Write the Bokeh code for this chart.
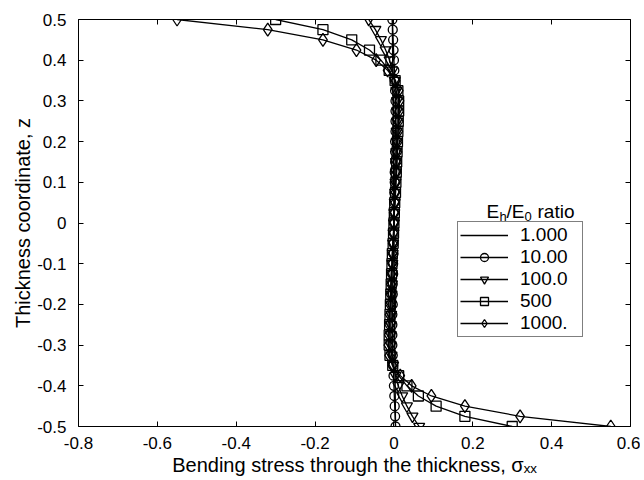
from bokeh.plotting import figure
from bokeh.models import Range1d, LinearAxis, FixedTicker, Label, Legend, LegendItem
from bokeh.embed import file_html
from bokeh.resources import INLINE

FONT = "Liberation Sans"

# ---- data -------------------------------------------------------------
z = [0.5, 0.475, 0.45, 0.425, 0.4, 0.375, 0.35, 0.325, 0.3, 0.275, 0.25,
     0.225, 0.2, 0.175, 0.15, 0.125, 0.1, 0.075, 0.05, 0.025, 0.0,
     -0.025, -0.05, -0.075, -0.1, -0.125, -0.15, -0.175, -0.2, -0.225, -0.25,
     -0.275, -0.3, -0.325, -0.35, -0.375, -0.4, -0.425, -0.45, -0.475, -0.5]

sig_1 = [-0.004, -0.0038, -0.0036, -0.0034, -0.0032, -0.003, -0.0028, -0.0026, -0.0024, -0.0022, -0.002,
         -0.0018, -0.0016, -0.0014, -0.0012, -0.001, -0.0008, -0.0006, -0.0004, -0.0002, 0.0,
         0.0002, 0.0004, 0.0006, 0.0008, 0.001, 0.0012, 0.0014, 0.0016, 0.0018, 0.002,
         0.0022, 0.0024, 0.0026, 0.0028, 0.003, 0.0032, 0.0034, 0.0036, 0.0038, 0.004]

sig_10 = [-0.004, -0.003, -0.002, -0.001, 0.000, 0.001, 0.002, 0.003, 0.004, 0.004, 0.004,
          0.004, 0.003, 0.003, 0.003, 0.002, 0.002, 0.001, 0.001, 0.000, 0.0,
          0.000, -0.001, -0.001, -0.002, -0.002, -0.003, -0.003, -0.003, -0.004, -0.004,
          -0.004, -0.004, -0.003, -0.002, -0.001, 0.000, 0.001, 0.002, 0.003, 0.004]

sig_100 = [-0.064, -0.047, -0.033, -0.021, -0.011, -0.004, 0.002, 0.006, 0.008, 0.008, 0.008,
           0.007, 0.007, 0.006, 0.005, 0.005, 0.004, 0.003, 0.002, 0.001, 0.0,
           -0.001, -0.002, -0.003, -0.004, -0.005, -0.005, -0.006, -0.007, -0.007, -0.008,
           -0.008, -0.008, -0.006, -0.002, 0.004, 0.011, 0.021, 0.033, 0.047, 0.064]

sig_500 = [-0.30, -0.18, -0.107, -0.062, -0.033, -0.012, 0.003, 0.010, 0.012, 0.012, 0.011,
           0.010, 0.009, 0.008, 0.007, 0.006, 0.005, 0.004, 0.002, 0.001, 0.0,
           -0.001, -0.002, -0.004, -0.005, -0.006, -0.007, -0.008, -0.009, -0.010, -0.011,
           -0.012, -0.012, -0.010, -0.003, 0.012, 0.033, 0.062, 0.107, 0.18, 0.30]

sig_1000 = [-0.55, -0.32, -0.18, -0.095, -0.045, -0.016, 0.004, 0.012, 0.014, 0.013, 0.012,
            0.011, 0.010, 0.009, 0.008, 0.007, 0.005, 0.004, 0.003, 0.001, 0.0,
            -0.001, -0.003, -0.004, -0.005, -0.007, -0.008, -0.009, -0.010, -0.011, -0.012,
            -0.013, -0.014, -0.012, -0.004, 0.016, 0.045, 0.095, 0.18, 0.32, 0.55]

series_labels = ["1.000", "10.00", "100.0", "500", "1000."]

x_ticks = [-0.8, -0.6, -0.4, -0.2, 0.0, 0.2, 0.4, 0.6]
x_tick_labels = ["-0.8", "-0.6", "-0.4", "-0.2", "0", "0.2", "0.4", "0.6"]
y_ticks = [0.5, 0.4, 0.3, 0.2, 0.1, 0.0, -0.1, -0.2, -0.3, -0.4, -0.5]
y_tick_labels = ["0.5", "0.4", "0.3", "0.2", "0.1", "0", "-0.1", "-0.2", "-0.3", "-0.4", "-0.5"]

# ---- figure -----------------------------------------------------------
p = figure(width=640, height=478, output_backend="svg", toolbar_location=None,
           x_range=Range1d(-0.8, 0.6), y_range=Range1d(-0.5, 0.5),
           min_border_left=78, min_border_right=10, min_border_top=19, min_border_bottom=51)
p.grid.visible = False
p.outline_line_color = None
p.background_fill_color = "white"
p.border_fill_color = "white"


def style_axis(ax, ticks, labels, show_labels=True):
    ax.ticker = FixedTicker(ticks=ticks)
    ax.major_label_overrides = {t: l for t, l in zip(ticks, labels)}
    ax.major_tick_in = 5
    ax.major_tick_out = 0
    ax.minor_tick_in = 0
    ax.minor_tick_out = 0
    ax.axis_line_color = "black"
    ax.axis_line_width = 1
    ax.major_tick_line_color = "black"
    ax.major_tick_line_width = 1
    ax.major_label_text_font = FONT
    ax.major_label_text_color = "black"
    if show_labels:
        ax.major_label_text_font_size = "17px"
    else:
        ax.major_label_text_font_size = "0px"
        ax.major_label_standoff = 0


style_axis(p.xaxis[0], x_ticks, x_tick_labels)
p.xaxis[0].major_label_standoff = 10
p.xaxis[0].axis_label = "Bending stress through the thickness, \u03c3\u2093\u2093"
p.xaxis[0].axis_label_text_font = FONT
p.xaxis[0].axis_label_text_font_size = "20px"
p.xaxis[0].axis_label_text_font_style = "normal"
p.xaxis[0].axis_label_text_color = "black"
p.xaxis[0].axis_label_standoff = 2

style_axis(p.yaxis[0], y_ticks, y_tick_labels)
p.yaxis[0].major_label_standoff = 12
p.yaxis[0].axis_label = "Thickness coordinate, z"
p.yaxis[0].axis_label_text_font = FONT
p.yaxis[0].axis_label_text_font_size = "20px"
p.yaxis[0].axis_label_text_font_style = "normal"
p.yaxis[0].axis_label_text_color = "black"
p.yaxis[0].axis_label_standoff = 0

top_ax = LinearAxis()
style_axis(top_ax, x_ticks, x_tick_labels, show_labels=False)
p.add_layout(top_ax, "above")
right_ax = LinearAxis()
style_axis(right_ax, y_ticks, y_tick_labels, show_labels=False)
p.add_layout(right_ax, "right")

# ---- series -----------------------------------------------------------
LW = 1.3
MLW = 1.3
r1 = p.line(sig_1, z, line_color="black", line_width=LW)

r10l = p.line(sig_10, z, line_color="black", line_width=LW)
r10m = p.scatter(sig_10, z, marker="circle", size=9, line_color="black", line_width=MLW, fill_color=None)

r100l = p.line(sig_100, z, line_color="black", line_width=LW)
r100m = p.scatter(sig_100, z, marker="inverted_triangle", size=11, line_color="black", line_width=MLW, fill_color=None)

r500l = p.line(sig_500, z, line_color="black", line_width=LW)
r500m = p.scatter(sig_500, z, marker="square", size=10, line_color="black", line_width=MLW, fill_color=None)

r1000l = p.line(sig_1000, z, line_color="black", line_width=LW)
r1000m = p.scatter(sig_1000, z, marker="diamond", size=13, line_color="black", line_width=MLW, fill_color=None)

legend = Legend(items=[
    LegendItem(label=series_labels[0], renderers=[r1]),
    LegendItem(label=series_labels[1], renderers=[r10l, r10m]),
    LegendItem(label=series_labels[2], renderers=[r100l, r100m]),
    LegendItem(label=series_labels[3], renderers=[r500l, r500m]),
    LegendItem(label=series_labels[4], renderers=[r1000l, r1000m]),
], location=(379, 89))
legend.border_line_color = "black"
legend.border_line_width = 1
legend.background_fill_color = "white"
legend.background_fill_alpha = 1
legend.padding = 2
legend.spacing = 0
legend.margin = 0
legend.glyph_height = 20
legend.glyph_width = 48
legend.label_height = 20
legend.label_standoff = 12
legend.label_width = 60
legend.label_text_font = FONT
legend.label_text_font_size = "19px"
legend.label_text_color = "black"
p.add_layout(legend)

# ---- legend title with subscripts ------------------------------------
tx, ty = 0.2348, 0.029
title_parts = [("E", 0, 0, "19px"), ("h", 13, -5, "13px"), ("/E", 20, 0, "19px"),
               ("0", 38, -5, "13px"), ("ratio", 51, 0, "19px")]
for txt, dx, dy, fs in title_parts:
    p.add_layout(Label(x=tx, y=ty, x_offset=dx, y_offset=dy, text=txt, text_font=FONT,
                       text_font_size=fs, text_color="black", text_baseline="alphabetic"))

open("out.html", "w").write(file_html(p, INLINE))
